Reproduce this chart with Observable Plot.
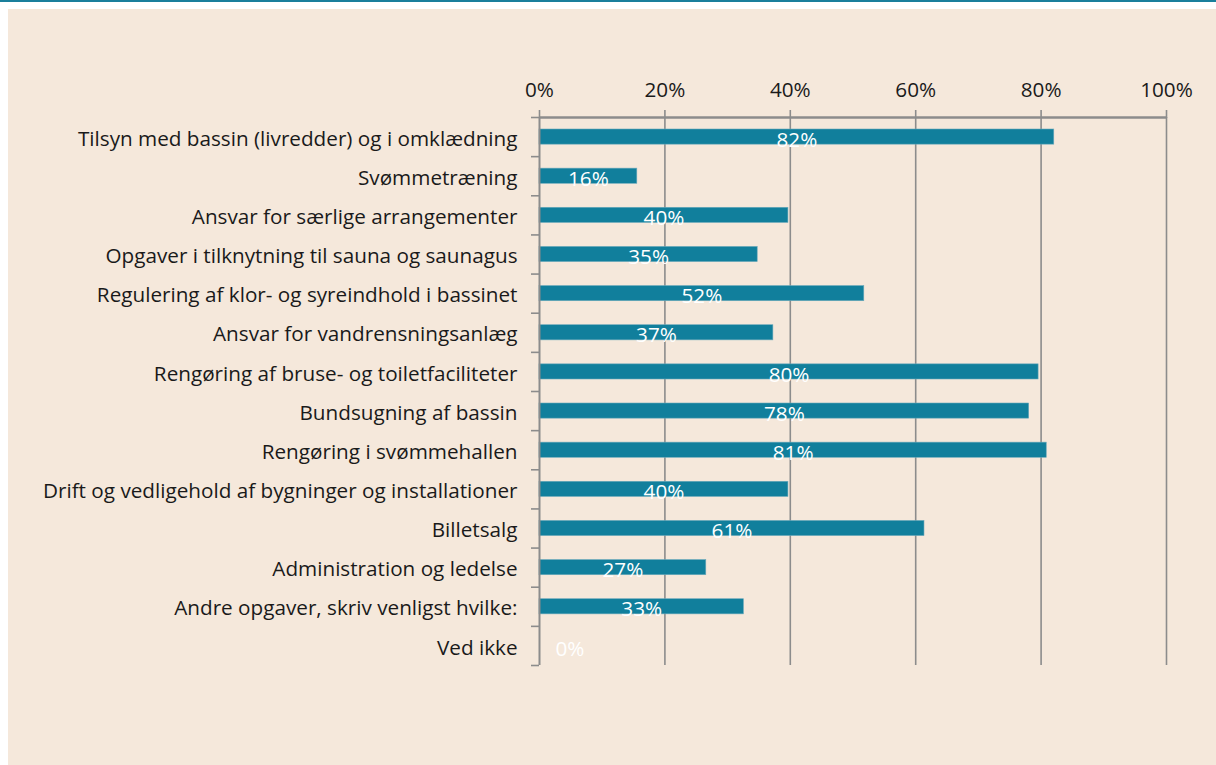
<!DOCTYPE html>
<html>
<head>
<meta charset="utf-8">
<script src="https://cdn.jsdelivr.net/npm/d3@7"></script>
<script src="https://cdn.jsdelivr.net/npm/@observablehq/plot@0.6"></script>
<style>
  html, body { margin: 0; padding: 0; background: #ffffff; overflow: hidden; }
  #topline { height: 2px; background: #1a7f9b; }
  #panel { position: absolute; left: 8px; top: 9px; width: 1208px; height: 756px; background: #f5e8db; }
  #panel svg { display: block; }
</style>
</head>
<body>
<div id="topline"></div>
<div id="panel"></div>
<script>
const categories = [
  "Tilsyn med bassin (livredder) og i omklædning",
  "Svømmetræning",
  "Ansvar for særlige arrangementer",
  "Opgaver i tilknytning til sauna og saunagus",
  "Regulering af klor- og syreindhold i bassinet",
  "Ansvar for vandrensningsanlæg",
  "Rengøring af bruse- og toiletfaciliteter",
  "Bundsugning af bassin",
  "Rengøring i svømmehallen",
  "Drift og vedligehold af bygninger og installationer",
  "Billetsalg",
  "Administration og ledelse",
  "Andre opgaver, skriv venligst hvilke:",
  "Ved ikke"
];
const values = [82.1, 15.6, 39.7, 34.8, 51.8, 37.3, 79.6, 78.1, 80.9, 39.7, 61.4, 26.6, 32.6, 0];
const xTicks = [0, 20, 40, 60, 80, 100];

const rows = categories.map((c, i) => ({cat: c, value: values[i], i}));
const FONT = "'Open Sans', 'Noto Sans', sans-serif";
const FS = 20.7;
const GRAY = "#8c8c8c";
const TEAL = "#117f9c";

const chart = Plot.plot({
  width: 1208,
  height: 756,
  marginLeft: 531,
  marginRight: 50,
  marginTop: 108,
  marginBottom: 100,
  style: {background: "transparent", fontFamily: FONT, fontSize: FS + "px", color: "#1a1a1a"},
  x: {domain: [0, 100]},
  y: {domain: [0, categories.length], reverse: true},
  marks: [
    Plot.gridX(xTicks.slice(1), {stroke: GRAY, strokeOpacity: 1, strokeWidth: 1.6}),
    Plot.axisX({anchor: "top", ticks: xTicks, tickFormat: d => d + "%", tickSize: 8, tickPadding: 13, stroke: GRAY, strokeWidth: 1.6, fill: "#1a1a1a", fontSize: FS, label: null}),
    Plot.axisY({ticks: d3.range(categories.length + 1), tickSize: 8, tickFormat: () => "", stroke: GRAY, strokeWidth: 1.6, label: null}),
    Plot.axisY({ticks: d3.range(categories.length).map(i => i + 0.5), tickFormat: d => categories[Math.floor(d)], tickSize: 0, tickPadding: 22, fill: "#1a1a1a", fontSize: FS, dy: 2, label: null}),
    Plot.rectX(rows.filter(d => d.value > 0), {x1: 0, x2: "value", y1: "i", y2: d => d.i + 1, insetTop: 12, insetBottom: 12, fill: TEAL, stroke: "#6aa9bb", strokeWidth: 0.6}),
    Plot.ruleY([0], {stroke: GRAY, strokeWidth: 2.4}),
    Plot.ruleX([0], {stroke: GRAY, strokeWidth: 2}),
    Plot.text(rows.filter(d => d.value > 0), {x: d => d.value / 2, y: d => d.i + 0.5, text: d => Math.round(d.value) + "%", fill: "white", fontSize: FS, dy: 3}),
    Plot.text(rows.filter(d => d.value === 0), {x: "value", y: d => d.i + 0.5, text: d => Math.round(d.value) + "%", fill: "white", fontSize: FS, textAnchor: "start", dx: 16, dy: 3})
  ]
});
document.getElementById("panel").appendChild(chart);
</script>
</body>
</html>
